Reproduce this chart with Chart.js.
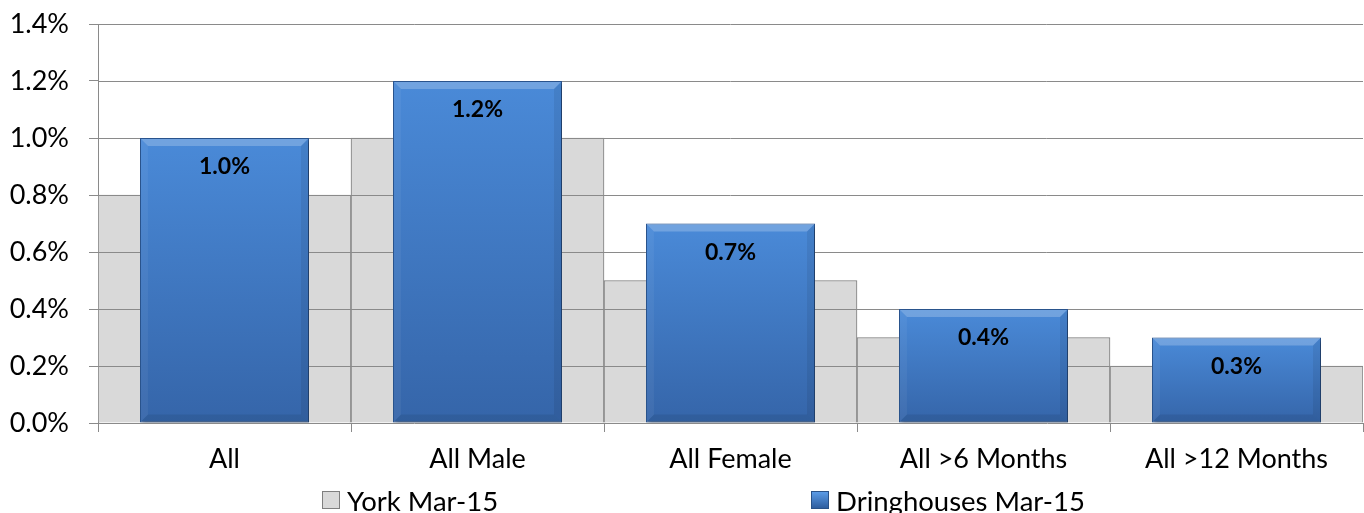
<!DOCTYPE html>
<html><head><meta charset="utf-8">
<script src="https://cdn.jsdelivr.net/npm/chart.js@4.4.1/dist/chart.umd.min.js"></script>
<style>
html,body{margin:0;padding:0;background:#fff;}
#wrap{position:relative;width:1364px;height:513px;overflow:hidden;}
canvas{position:absolute;left:0;top:0;}
.leg{position:absolute;top:484px;height:32px;display:flex;align-items:center;font-family:Lato,sans-serif;font-size:27.5px;color:#000;white-space:nowrap;}
.box{display:inline-block;width:18px;height:18px;margin-right:7px;box-sizing:border-box;}
</style></head>
<body><div id="wrap"><canvas id="c" width="1364" height="513"></canvas></div>
<script>
const categories = ['All', 'All Male', 'All Female', 'All >6 Months', 'All >12 Months'];
const yorkValues = [0.8, 1.0, 0.5, 0.3, 0.2];
const dringhousesValues = [1.0, 1.2, 0.7, 0.4, 0.3];
const seriesNames = ['York Mar-15', 'Dringhouses Mar-15'];
const yMin = 0, yMax = 1.4, yStep = 0.2;

const FONT = 'Lato';
const pct = v => Number(v).toFixed(1) + '%';
const GRID = '#8a8a8a';

// HTML legend
const legendPos = [322, 811];
const legendBoxes = [
  'background:#d9d9d9;border:1px solid #7f7f7f',
  'background:linear-gradient(#5b9be6,#2f5e9f);border:1px solid #2a5288'
];
seriesNames.forEach((n, i) => {
  const d = document.createElement('div');
  d.className = 'leg';
  d.style.left = legendPos[i] + 'px';
  const b = document.createElement('span');
  b.className = 'box';
  b.style.cssText = legendBoxes[i];
  d.appendChild(b);
  d.appendChild(document.createTextNode(n));
  document.getElementById('wrap').appendChild(d);
});

const gridOverGrey = {
  id: 'gridOverGrey',
  afterDatasetDraw(chart, args) {
    if (args.index !== 0) return;
    const ctx = chart.ctx, a = chart.chartArea, y = chart.scales.y;
    ctx.save();
    ctx.strokeStyle = GRID; ctx.lineWidth = 1;
    y.ticks.forEach(t => {
      if (t.value === 0) return;
      const py = Math.round(y.getPixelForValue(t.value)) + 0.5;
      ctx.beginPath(); ctx.moveTo(a.left, py); ctx.lineTo(a.right, py); ctx.stroke();
    });
    ctx.restore();
  }
};

const bevel = {
  id: 'bevel',
  beforeDatasetDraw(chart, args) {
    if (args.index !== 1) return;
    const ctx = chart.ctx;
    ctx.save();
    ctx.shadowColor = 'rgba(0,0,0,0.35)';
    ctx.shadowBlur = 4; ctx.shadowOffsetX = 2; ctx.shadowOffsetY = 2;
  },
  afterDatasetDraw(chart, args) {
    if (args.index !== 1) return;
    const ctx = chart.ctx;
    ctx.restore();
    ctx.save();
    args.meta.data.forEach(el => {
      const l = el.x - el.width / 2 + 1, r = el.x + el.width / 2 - 1, t = el.y + 1, b = el.base - 1, k = 7;
      ctx.fillStyle = 'rgba(255,255,255,0.22)';
      ctx.beginPath(); ctx.moveTo(l, t); ctx.lineTo(r, t); ctx.lineTo(r - k, t + k); ctx.lineTo(l + k, t + k); ctx.closePath(); ctx.fill();
      ctx.fillStyle = 'rgba(255,255,255,0.05)';
      ctx.beginPath(); ctx.moveTo(l, t); ctx.lineTo(l + k, t + k); ctx.lineTo(l + k, b - k); ctx.lineTo(l, b); ctx.closePath(); ctx.fill();
      ctx.fillStyle = 'rgba(0,0,0,0.07)';
      ctx.beginPath(); ctx.moveTo(r, t); ctx.lineTo(r - k, t + k); ctx.lineTo(r - k, b - k); ctx.lineTo(r, b); ctx.closePath(); ctx.fill();
      ctx.fillStyle = 'rgba(0,0,0,0.08)';
      ctx.beginPath(); ctx.moveTo(l, b); ctx.lineTo(l + k, b - k); ctx.lineTo(r - k, b - k); ctx.lineTo(r, b); ctx.closePath(); ctx.fill();
    });
    ctx.restore();
  },
  afterDatasetsDraw(chart) {
    const ctx = chart.ctx;
    const meta = chart.getDatasetMeta(1);
    ctx.save();
    ctx.font = 'bold 23px ' + FONT;
    ctx.fillStyle = '#000';
    ctx.textAlign = 'center'; ctx.textBaseline = 'middle';
    meta.data.forEach((el, i) => {
      ctx.fillText(pct(chart.data.datasets[1].data[i]), el.x, el.y + 29);
    });
    ctx.restore();
  }
};

function blueFill(c) {
  const ch = c.chart, ys = ch.scales && ch.scales.y;
  if (!ys || c.type !== 'data') return '#3f7fcf';
  const top = ys.getPixelForValue(c.raw), bot = ys.getPixelForValue(0);
  if (!isFinite(top) || !isFinite(bot) || top === bot) return '#3f7fcf';
  const g = ch.ctx.createLinearGradient(0, top, 0, bot);
  g.addColorStop(0, '#4a8ad8');
  g.addColorStop(1, '#3565a9');
  return g;
}

function build() {
  const chart = new Chart(document.getElementById('c'), {
    type: 'bar',
    data: {
      labels: categories,
      datasets: [
        { label: seriesNames[0], data: yorkValues, backgroundColor: '#d9d9d9', borderColor: '#7a7a7a', borderWidth: 1,
          barPercentage: 1, categoryPercentage: 1, grouped: false, order: 2 },
        { label: seriesNames[1], data: dringhousesValues, backgroundColor: blueFill, borderColor: '#2b5692', borderWidth: 1,
          borderSkipped: false, barPercentage: 0.668, categoryPercentage: 1, grouped: false, order: 1 }
      ]
    },
    options: {
      responsive: false, animation: false,
      layout: { padding: { top: 24, right: 1, bottom: 40, left: 0 } },
      plugins: { legend: { display: false }, tooltip: { enabled: false } },
      scales: {
        x: {
          offset: true,
          grid: { display: true, drawOnChartArea: false, drawTicks: true, tickLength: 9, color: GRID, offset: true },
          border: { display: true, color: GRID },
          ticks: { color: '#000', font: { family: FONT, size: 27 }, padding: 11, maxRotation: 0, autoSkip: false },
          afterFit(s) { s.height = 50; s.paddingLeft = 0; s.paddingRight = 0; }
        },
        y: {
          min: yMin, max: yMax,
          grid: { drawOnChartArea: false, drawTicks: true, tickLength: 9, color: GRID },
          border: { display: true, color: GRID },
          ticks: { stepSize: yStep, color: '#000', font: { family: FONT, size: 27 }, padding: 20, callback: v => pct(v) },
          afterFit(s) { s.width = 98; s.paddingTop = 0; s.paddingBottom = 0; }
        }
      }
    },
    plugins: [gridOverGrey, bevel]
  });
  chart.update();
}
if (document.fonts && document.fonts.load) {
  Promise.all([document.fonts.load('27px Lato'), document.fonts.load('bold 23px Lato')]).then(build, build);
} else build();
</script>
</body></html>
